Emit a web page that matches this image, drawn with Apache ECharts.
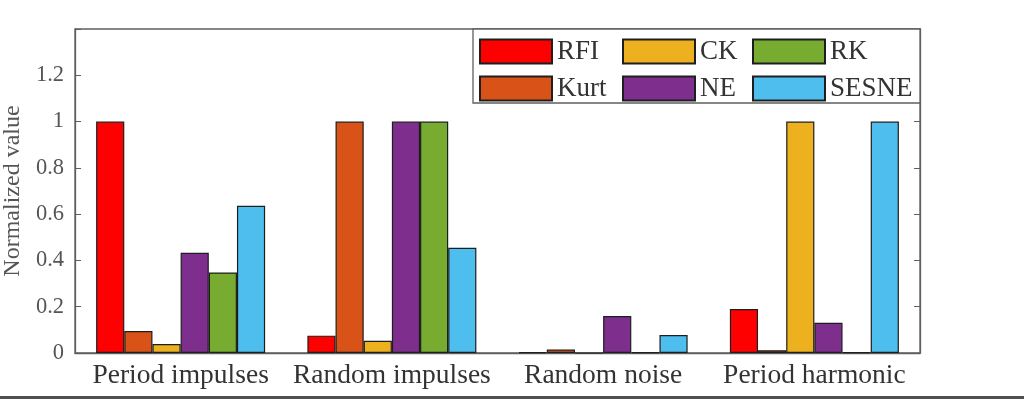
<!DOCTYPE html>
<html>
<head>
<meta charset="utf-8">
<script src="https://cdn.jsdelivr.net/npm/echarts@6/dist/echarts.min.js"></script>
<style>
html,body{margin:0;padding:0;background:#fff;}
#chart{width:1024px;height:399px;}
</style>
</head>
<body>
<div id="chart"></div>
<script>
var categories = ['Period impulses', 'Random impulses', 'Random noise', 'Period harmonic'];
var seriesNames = ['RFI', 'Kurt', 'CK', 'NE', 'RK', 'SESNE'];
var RFI   = [1.00, 0.075, 0.004, 0.19];
var Kurt  = [0.095, 1.00, 0.015, 0.012];
var CK    = [0.039, 0.053, 0, 1.00];
var NE    = [0.433, 1.00, 0.16, 0.131];
var RK    = [0.348, 1.00, 0.004, 0.004];
var SESNE = [0.636, 0.455, 0.078, 1.00];
var yTickValues = [0, 0.2, 0.4, 0.6, 0.8, 1, 1.2];
var yTickLabels = ['0', '0.2', '0.4', '0.6', '0.8', '1', '1.2'];

var seriesData = [RFI, Kurt, CK, NE, RK, SESNE];
var colors = ['#ff0000', '#d95319', '#edb120', '#7e2f8e', '#77ac30', '#4dbeee'];
var serif = "'Liberation Serif', 'Times New Roman', serif";

function tickFmt(v) {
  for (var i = 0; i < yTickValues.length; i++) {
    if (Math.abs(yTickValues[i] - v) < 1e-6) return yTickLabels[i];
  }
  return '';
}

var chart = echarts.init(document.getElementById('chart'));
var axisColor = '#5f5f5f';

function makeLegend(left, names) {
  return {
    orient: 'vertical',
    left: left,
    top: 38,
    padding: 0,
    itemWidth: 72,
    itemHeight: 24,
    itemGap: 10,
    icon: 'rect',
    data: names,
    textStyle: { fontFamily: serif, fontSize: 27, color: '#333', lineHeight: 24, padding: [0, 0, 0, 0] }
  };
}

var option = {
  animation: false,
  backgroundColor: '#fff',
  color: colors,
  grid: {
    left: 75, right: 104, top: 29, bottom: 46,
    containLabel: false,
    outerBoundsMode: 'none',
    show: true, borderColor: axisColor, borderWidth: 1.3, backgroundColor: 'transparent'
  },
  legend: [
    makeLegend(479, ['RFI', 'Kurt']),
    makeLegend(622, ['CK', 'NE']),
    makeLegend(752, ['RK', 'SESNE'])
  ],
  graphic: [
    {
      type: 'rect', z: 3,
      shape: { x: 473, y: 29, width: 447, height: 74 },
      style: { fill: '#fff', stroke: axisColor, lineWidth: 1.3 }
    },
    {
      type: 'rect', z: 3,
      shape: { x: 0, y: 396, width: 1024, height: 3 },
      style: { fill: '#505050' }
    }
  ],
  xAxis: {
    type: 'category',
    data: categories,
    axisLine: { show: true, lineStyle: { color: axisColor, width: 1.3 } },
    axisTick: { show: false },
    axisLabel: { fontFamily: serif, fontSize: 27.5, color: '#333', margin: 9, interval: 0 },
    splitLine: { show: false }
  },
  yAxis: [
    {
      type: 'value', min: 0, max: 1.4, interval: 0.2,
      name: 'Normalized value',
      nameLocation: 'middle',
      nameGap: 46,
      nameRotate: 90,
      nameTextStyle: { fontFamily: serif, fontSize: 24, color: '#555' },
      axisLine: { show: true, lineStyle: { color: axisColor, width: 1.3 } },
      axisTick: { show: true, inside: true, length: 6, lineStyle: { color: axisColor } },
      axisLabel: { fontFamily: serif, fontSize: 22.5, color: '#555', margin: 11, formatter: tickFmt },
      splitLine: { show: false }
    },
    {
      type: 'value', min: 0, max: 1.4, interval: 0.2, position: 'right',
      axisLine: { show: true, lineStyle: { color: axisColor, width: 1.3 } },
      axisTick: { show: true, inside: true, length: 6, lineStyle: { color: axisColor } },
      axisLabel: { show: false },
      splitLine: { show: false }
    }
  ],
  series: seriesNames.map(function (n, i) {
    return {
      name: n,
      type: 'bar',
      data: seriesData[i],
      barGap: '0%',
      barCategoryGap: '20%',
      itemStyle: { color: colors[i], borderColor: '#1e1e1e', borderWidth: 1.2 }
    };
  })
};
chart.setOption(option);
</script>
</body>
</html>
